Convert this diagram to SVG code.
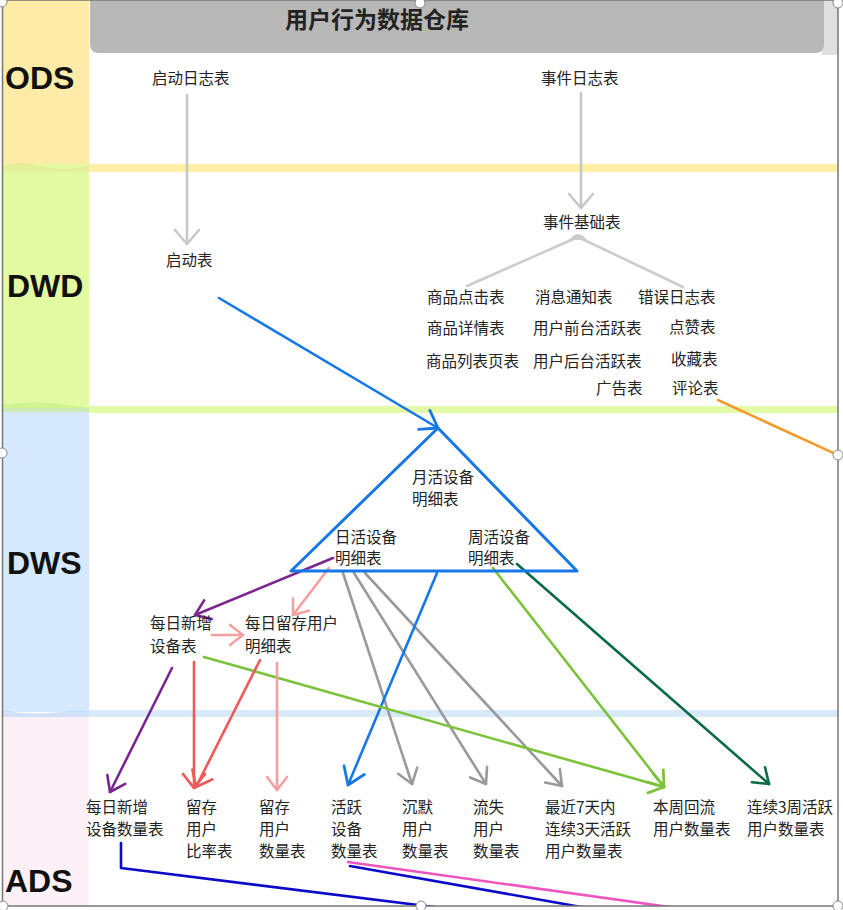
<svg xmlns="http://www.w3.org/2000/svg" width="843" height="910" viewBox="0 0 843 910">
<style>
.t{font-family:"Noto Sans CJK SC","Liberation Sans",sans-serif;font-size:15.5px;fill:#222}
.layer{font-family:"Liberation Sans",Arial,sans-serif;font-weight:bold;font-size:32px;fill:#111}
.title{font-family:"Noto Sans CJK SC","Liberation Sans",sans-serif;font-weight:bold;font-size:23px;fill:#222}
.c{fill:none;stroke-width:2.6;stroke-linecap:round;stroke-linejoin:round}
.handle{fill:#fff;stroke:#888;stroke-width:1}
</style>
<defs>
<clipPath id="inner"><rect x="3" y="0" width="835" height="906"/></clipPath>
<marker id="ah-lgray" viewBox="-16 -12 18 24" refX="0" refY="0" markerWidth="18" markerHeight="24" markerUnits="userSpaceOnUse" orient="auto" overflow="visible"><path d="M-14,-12 L0,0 L-14,12" fill="none" stroke="#c8c8c8" stroke-width="2.6" stroke-linecap="round" stroke-linejoin="round"/></marker>
<marker id="ah-gray" viewBox="-16 -12 18 24" refX="0" refY="0" markerWidth="18" markerHeight="24" markerUnits="userSpaceOnUse" orient="auto" overflow="visible"><path d="M-14,-10 L0,0 L-14,10" fill="none" stroke="#9a9a9a" stroke-width="2.6" stroke-linecap="round" stroke-linejoin="round"/></marker>
<marker id="ah-blue" viewBox="-18 -14 20 28" refX="0" refY="0" markerWidth="20" markerHeight="28" markerUnits="userSpaceOnUse" orient="auto" overflow="visible"><path d="M-16,-11 L0,0 L-16,11" fill="none" stroke="#1677e6" stroke-width="2.8" stroke-linecap="round" stroke-linejoin="round"/></marker>
<marker id="ah-purple" viewBox="-16 -12 18 24" refX="0" refY="0" markerWidth="18" markerHeight="24" markerUnits="userSpaceOnUse" orient="auto" overflow="visible"><path d="M-14,-10 L0,0 L-14,10" fill="none" stroke="#7a2590" stroke-width="2.6" stroke-linecap="round" stroke-linejoin="round"/></marker>
<marker id="ah-salmon" viewBox="-16 -12 18 24" refX="0" refY="0" markerWidth="18" markerHeight="24" markerUnits="userSpaceOnUse" orient="auto" overflow="visible"><path d="M-13,-10 L0,0 L-13,10" fill="none" stroke="#f4a0a0" stroke-width="2.6" stroke-linecap="round" stroke-linejoin="round"/></marker>
<marker id="ah-red" viewBox="-16 -12 18 24" refX="0" refY="0" markerWidth="18" markerHeight="24" markerUnits="userSpaceOnUse" orient="auto" overflow="visible"><path d="M-14,-11 L0,0 L-14,11" fill="none" stroke="#ee5a5a" stroke-width="2.8" stroke-linecap="round" stroke-linejoin="round"/></marker>
<marker id="ah-green" viewBox="-16 -12 18 24" refX="0" refY="0" markerWidth="18" markerHeight="24" markerUnits="userSpaceOnUse" orient="auto" overflow="visible"><path d="M-14,-10 L0,0 L-14,10" fill="none" stroke="#7cc23a" stroke-width="2.8" stroke-linecap="round" stroke-linejoin="round"/></marker>
<marker id="ah-dgreen" viewBox="-16 -12 18 24" refX="0" refY="0" markerWidth="18" markerHeight="24" markerUnits="userSpaceOnUse" orient="auto" overflow="visible"><path d="M-14,-10 L0,0 L-14,10" fill="none" stroke="#0b6b45" stroke-width="2.6" stroke-linecap="round" stroke-linejoin="round"/></marker>
</defs>

<rect x="0" y="0" width="843" height="910" fill="#fff"/>

<g id="bands">
<rect x="3" y="0" width="86" height="166" fill="#feeba7"/>
<rect x="3" y="164" width="86" height="244" fill="#e2fba3"/>
<rect x="3" y="408" width="86" height="304" fill="#d6e9fc"/>
<rect x="3" y="713" width="86" height="193" fill="#fdf0f6"/>
<rect x="89" y="164" width="749" height="8" fill="#fdeea6"/>
<rect x="89" y="406" width="749" height="7" fill="#e3faa6"/>
<rect x="89" y="710" width="749" height="7" fill="#d8e9fa"/>
<path d="M3,166 Q20,160 40,166 T89,166 L89,172 L3,172 Z" fill="#e6e390" opacity="0.5"/>
<path d="M3,405 Q30,400 60,404 T89,408 L89,412 L3,412 Z" fill="#c5ee85" opacity="0.6"/>
<path d="M3,710 Q30,716 60,712 T89,713 L89,717 L3,717 Z" fill="#bcd9f8" opacity="0.7"/>
</g>

<g id="header">
<rect x="822" y="0" width="16" height="55" fill="#e0e0e0"/>
<path d="M90,0 L824,0 L824,44 Q824,53 815,53 L99,53 Q90,53 90,44 Z" fill="#b8b8b8"/>
<text class="title" x="377" y="28" text-anchor="middle">用户行为数据仓库</text>
</g>

<g id="layer-labels">
<text class="layer" x="5" y="89">ODS</text>
<text class="layer" x="7" y="297">DWD</text>
<text class="layer" x="7" y="574">DWS</text>
<text class="layer" x="5" y="892">ADS</text>
</g>

<g id="connectors" clip-path="url(#inner)">
<path class="c" d="M187,95 L187,244" stroke="#c8c8c8" marker-end="url(#ah-lgray)"/>
<path class="c" d="M581,93 L581,208" stroke="#c8c8c8" marker-end="url(#ah-lgray)"/>
<path d="M569,240 Q578,228 587,240 Z" fill="#cccccc"/>
<path class="c" d="M578,237 L467,286 M578,237 L683,287" stroke="#cccccc"/>
<path class="c" d="M219,298 L438,428" stroke="#1677e6" stroke-width="2.8" marker-end="url(#ah-blue)"/>
<path class="c" d="M718,400 L840,456" stroke="#f29b2a"/>
<path class="c" d="M333,558 L195,615" stroke="#7a2590" marker-end="url(#ah-purple)"/>
<path class="c" d="M329,568 L293,615" stroke="#f4a0a0" marker-end="url(#ah-salmon)"/>
<path class="c" d="M212,635 L243,635" stroke="#f4a0a0" marker-end="url(#ah-salmon)"/>
<path class="c" d="M343,573 L412,784" stroke="#9a9a9a" marker-end="url(#ah-gray)"/>
<path class="c" d="M354,573 L486,784" stroke="#9a9a9a" marker-end="url(#ah-gray)"/>
<path class="c" d="M365,573 L562,786" stroke="#9a9a9a" marker-end="url(#ah-gray)"/>
<path class="c" d="M437,573 L348,785" stroke="#1677e6" stroke-width="2.8" marker-end="url(#ah-blue)"/>
<path class="c" d="M493,568 L664,787" stroke="#7cc23a" marker-end="url(#ah-green)"/>
<path class="c" d="M517,564 L769,784" stroke="#0b6b45" marker-end="url(#ah-dgreen)"/>
<path class="c" d="M204,657 L664,787" stroke="#7cc23a" marker-end="url(#ah-green)"/>
<path class="c" d="M172,668 L110,792" stroke="#7a2590" marker-end="url(#ah-purple)"/>
<path class="c" d="M194,662 L194,788" stroke="#ee5a5a" stroke-width="2.8" marker-end="url(#ah-red)"/>
<path class="c" d="M260,660 L196,787" stroke="#ee5a5a" stroke-width="2.8" marker-end="url(#ah-red)"/>
<path class="c" d="M277,663 L277,790" stroke="#f4a0a0" marker-end="url(#ah-salmon)"/>
<path class="c" d="M121,843 L121,868 L458,910" stroke="#0a0ac8"/>
<path class="c" d="M348,862 L705,912" stroke="#ee55c0"/>
<path class="c" d="M350,866 L598,910" stroke="#0a0ac8"/>
</g>

<g id="frame">
<path d="M2.5,0 L2.5,906 L838,906 L838,0 L0,0" fill="none" stroke="#777" stroke-width="1.5"/>
</g>

<g id="n-ods-startlog"><text class="t" x="152" y="83.5">启动日志表</text></g>
<g id="n-ods-eventlog"><text class="t" x="541" y="83.5">事件日志表</text></g>

<g id="n-dwd-start"><text class="t" x="166" y="265.5">启动表</text></g>
<g id="n-dwd-eventbase"><text class="t" x="543" y="227.5">事件基础表</text></g>
<g id="n-dwd-events">
<text class="t" x="427" y="302.5">商品点击表</text>
<text class="t" x="535" y="302.5">消息通知表</text>
<text class="t" x="638" y="302.5">错误日志表</text>
<text class="t" x="427" y="333.5">商品详情表</text>
<text class="t" x="533" y="333.5">用户前台活跃表</text>
<text class="t" x="669" y="333">点赞表</text>
<text class="t" x="426" y="366.5">商品列表页表</text>
<text class="t" x="533" y="366.5">用户后台活跃表</text>
<text class="t" x="671" y="364.5">收藏表</text>
<text class="t" x="596" y="393.5">广告表</text>
<text class="t" x="672" y="393.5">评论表</text>
</g>

<g id="n-dws-active">
<path d="M438,428 L291,571 L577,571 Z" fill="none" stroke="#1677e6" stroke-width="3" stroke-linejoin="round"/>
<text class="t" x="412" y="482.5">月活设备</text>
<text class="t" x="412" y="504.5">明细表</text>
</g>
<g id="n-dws-day"><text class="t" x="335" y="542.5">日活设备</text><text class="t" x="335" y="563.5">明细表</text></g>
<g id="n-dws-week"><text class="t" x="468" y="542.5">周活设备</text><text class="t" x="468" y="563.5">明细表</text></g>
<g id="n-dws-new"><text class="t" x="150" y="628.5">每日新增</text><text class="t" x="150" y="651.5">设备表</text></g>
<g id="n-dws-retain"><text class="t" x="245" y="628.5">每日留存用户</text><text class="t" x="245" y="651.5">明细表</text></g>

<g id="n-ads-new"><text class="t" x="86" y="812.5">每日新增</text><text class="t" x="86" y="834.5">设备数量表</text></g>
<g id="n-ads-retain-rate"><text class="t" x="186" y="812.5">留存</text><text class="t" x="186" y="834.5">用户</text><text class="t" x="186" y="856.5">比率表</text></g>
<g id="n-ads-retain-count"><text class="t" x="259" y="812.5">留存</text><text class="t" x="259" y="834.5">用户</text><text class="t" x="259" y="856.5">数量表</text></g>
<g id="n-ads-active"><text class="t" x="331" y="812.5">活跃</text><text class="t" x="331" y="834.5">设备</text><text class="t" x="331" y="856.5">数量表</text></g>
<g id="n-ads-silent"><text class="t" x="402" y="812.5">沉默</text><text class="t" x="402" y="834.5">用户</text><text class="t" x="402" y="856.5">数量表</text></g>
<g id="n-ads-lost"><text class="t" x="473" y="812.5">流失</text><text class="t" x="473" y="834.5">用户</text><text class="t" x="473" y="856.5">数量表</text></g>
<g id="n-ads-continuous"><text class="t" x="545" y="812.5">最近7天内</text><text class="t" x="545" y="834.5">连续3天活跃</text><text class="t" x="545" y="856.5">用户数量表</text></g>
<g id="n-ads-back"><text class="t" x="653" y="812.5">本周回流</text><text class="t" x="653" y="834.5">用户数量表</text></g>
<g id="n-ads-3weeks"><text class="t" x="747" y="812.5">连续3周活跃</text><text class="t" x="747" y="834.5">用户数量表</text></g>

<g id="handles">
<circle class="handle" cx="2" cy="2" r="5"/>
<circle class="handle" cx="420" cy="3" r="5"/>
<circle class="handle" cx="838" cy="3" r="5"/>
<circle class="handle" cx="2" cy="453" r="5"/>
<circle class="handle" cx="838" cy="455" r="5"/>
<circle class="handle" cx="3" cy="906" r="5"/>
<circle class="handle" cx="421" cy="906" r="5"/>
<circle class="handle" cx="838" cy="906" r="5"/>
</g>
</svg>
